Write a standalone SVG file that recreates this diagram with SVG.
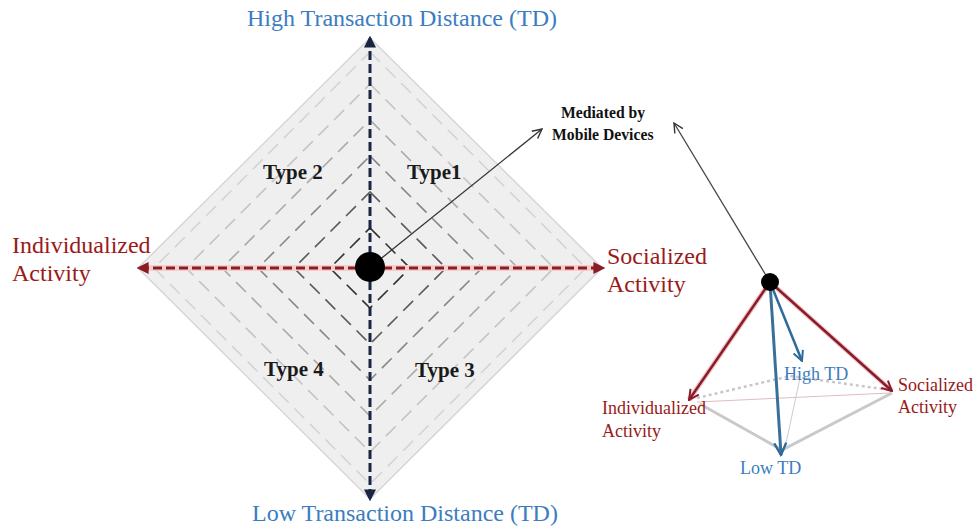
<svg xmlns="http://www.w3.org/2000/svg" width="976" height="527" viewBox="0 0 976 527">
<defs>
<marker id="navyHead" viewBox="0 0 10 10" refX="8" refY="5" markerWidth="4" markerHeight="4" orient="auto-start-reverse" markerUnits="strokeWidth"><path d="M0,0 L10,5 L0,10 z" fill="#1b2440"/></marker>
<marker id="redHead" viewBox="0 0 10 10" refX="8" refY="5" markerWidth="4" markerHeight="4" orient="auto-start-reverse" markerUnits="strokeWidth"><path d="M0,0 L10,5 L0,10 z" fill="#8b1c24"/></marker>
<marker id="thinHead" viewBox="0 0 10 10" refX="9" refY="5" markerWidth="9" markerHeight="9" orient="auto" markerUnits="strokeWidth"><path d="M1,1 L9,5 L1,9" fill="none" stroke="#333" stroke-width="1.2"/></marker>
<marker id="pRed" viewBox="0 0 10 10" refX="9" refY="5" markerWidth="5" markerHeight="5" orient="auto" markerUnits="strokeWidth"><path d="M1,1 L9,5 L1,9" fill="none" stroke="#8b1a2a" stroke-width="1.6"/></marker>
<marker id="pBlue" viewBox="0 0 10 10" refX="9" refY="5" markerWidth="5" markerHeight="5" orient="auto" markerUnits="strokeWidth"><path d="M1,1 L9,5 L1,9" fill="none" stroke="#2e6a9a" stroke-width="1.6"/></marker>
</defs>
<style>
.blue{fill:#3b7dc0;font-family:"Liberation Serif","Times New Roman",serif;}
.red{fill:#9a1a1a;font-family:"Liberation Serif","Times New Roman",serif;}
.type{fill:#1a1a1a;font-family:"Liberation Serif","Times New Roman",serif;font-weight:bold;font-size:21px;}
.med{fill:#111;font-family:"Liberation Serif","Times New Roman",serif;font-weight:bold;font-size:15.7px;}
.dd{fill:none;stroke-width:1.6;stroke-dasharray:14 8;}
</style>
<rect width="976" height="527" fill="#fff"/>

<g id="diamond">
<polygon points="370,35 605,268 370,502 135,268" fill="#f6f6f6" stroke="#ffffff" stroke-width="4"/>
<polygon points="370,38 602,268 370,499 138,268" fill="#efefef" stroke="#d6d6d6" stroke-width="1.5"/>
<polygon class="dd" points="370,52 586,268 370,484 154,268" stroke="#d4d4d4"/>
<polygon class="dd" points="370,84 554,268 370,452 186,268" stroke="#c4c4c4"/>
<polygon class="dd" points="370,120 518,268 370,416 222,268" stroke="#aaaaaa"/>
<polygon class="dd" points="370,156 482,268 370,380 258,268" stroke="#888888"/>
<polygon class="dd" points="370,192 446,268 370,344 294,268" stroke="#5a5a5a"/>
<polygon class="dd" points="370,228 410,268 370,308 330,268" stroke="#333333"/>
</g>

<g id="connectors">
<line x1="370" y1="268" x2="370" y2="38" stroke="#1b2440" stroke-width="3" stroke-dasharray="9 4" marker-end="url(#navyHead)"/>
<line x1="370" y1="268" x2="370" y2="499" stroke="#1b2440" stroke-width="3" stroke-dasharray="9 4" marker-end="url(#navyHead)"/>
<line x1="140" y1="268" x2="600" y2="268" stroke="#f5cdcd" stroke-width="6"/>
<line x1="370" y1="268" x2="139" y2="268" stroke="#8b1c24" stroke-width="3" stroke-dasharray="9 4" marker-end="url(#redHead)"/>
<line x1="370" y1="268" x2="603" y2="268" stroke="#8b1c24" stroke-width="3" stroke-dasharray="9 4" marker-end="url(#redHead)"/>
<line x1="378" y1="261" x2="542" y2="129" stroke="#333" stroke-width="1.3" marker-end="url(#thinHead)"/>
<line x1="770" y1="282" x2="674" y2="123" stroke="#444" stroke-width="1.3" marker-end="url(#thinHead)"/>
</g>

<g id="center-dot"><circle cx="370" cy="267" r="15" fill="#000"/></g>

<g id="pyramid">
<polyline points="697,398 790,376 890,390" fill="none" stroke="#c8c8c8" stroke-width="2.5" stroke-dasharray="3 3"/>
<line x1="697" y1="402" x2="890" y2="393" stroke="#e2bcbc" stroke-width="1"/>
<line x1="800" y1="378" x2="785" y2="448" stroke="#cccccc" stroke-width="1"/>
<polyline points="700,404 782,450 892,393" fill="none" stroke="#c9c9c9" stroke-width="3"/>
<line x1="770" y1="282" x2="689" y2="400" stroke="#f0c8c8" stroke-width="5"/>
<line x1="770" y1="282" x2="892" y2="391" stroke="#f0c8c8" stroke-width="5"/>
<line x1="770" y1="282" x2="689" y2="400" stroke="#8b1a2a" stroke-width="2.5" marker-end="url(#pRed)"/>
<line x1="770" y1="282" x2="892" y2="391" stroke="#8b1a2a" stroke-width="2.5" marker-end="url(#pRed)"/>
<line x1="770" y1="282" x2="781" y2="455" stroke="#3a6f9a" stroke-width="3" marker-end="url(#pBlue)"/>
<line x1="770" y1="282" x2="802" y2="361" stroke="#2e6a9a" stroke-width="2.5" marker-end="url(#pBlue)"/>
<circle cx="770" cy="282" r="9" fill="#000"/>
</g>

<g id="labels">
<text class="blue" x="247" y="26" font-size="24">High Transaction Distance (TD)</text>
<text class="blue" x="252" y="521" font-size="24">Low Transaction Distance (TD)</text>
<text class="red" x="12" y="253" font-size="24">Individualized</text>
<text class="red" x="12" y="281" font-size="24">Activity</text>
<text class="red" x="607" y="264" font-size="24">Socialized</text>
<text class="red" x="607" y="292" font-size="24">Activity</text>
<text class="type" x="263" y="179">Type 2</text>
<text class="type" x="407" y="179">Type1</text>
<text class="type" x="264" y="376">Type 4</text>
<text class="type" x="415" y="377">Type 3</text>
<text class="med" x="561" y="118">Mediated by</text>
<text class="med" x="552" y="140">Mobile Devices</text>
<text class="blue" x="784" y="380" font-size="18">High TD</text>
<text class="blue" x="740" y="474" font-size="18">Low TD</text>
<text class="red" x="898" y="391" font-size="18">Socialized</text>
<text class="red" x="898" y="413" font-size="18">Activity</text>
<text class="red" x="602" y="414" font-size="18">Individualized</text>
<text class="red" x="602" y="437" font-size="18">Activity</text>
</g>
</svg>
